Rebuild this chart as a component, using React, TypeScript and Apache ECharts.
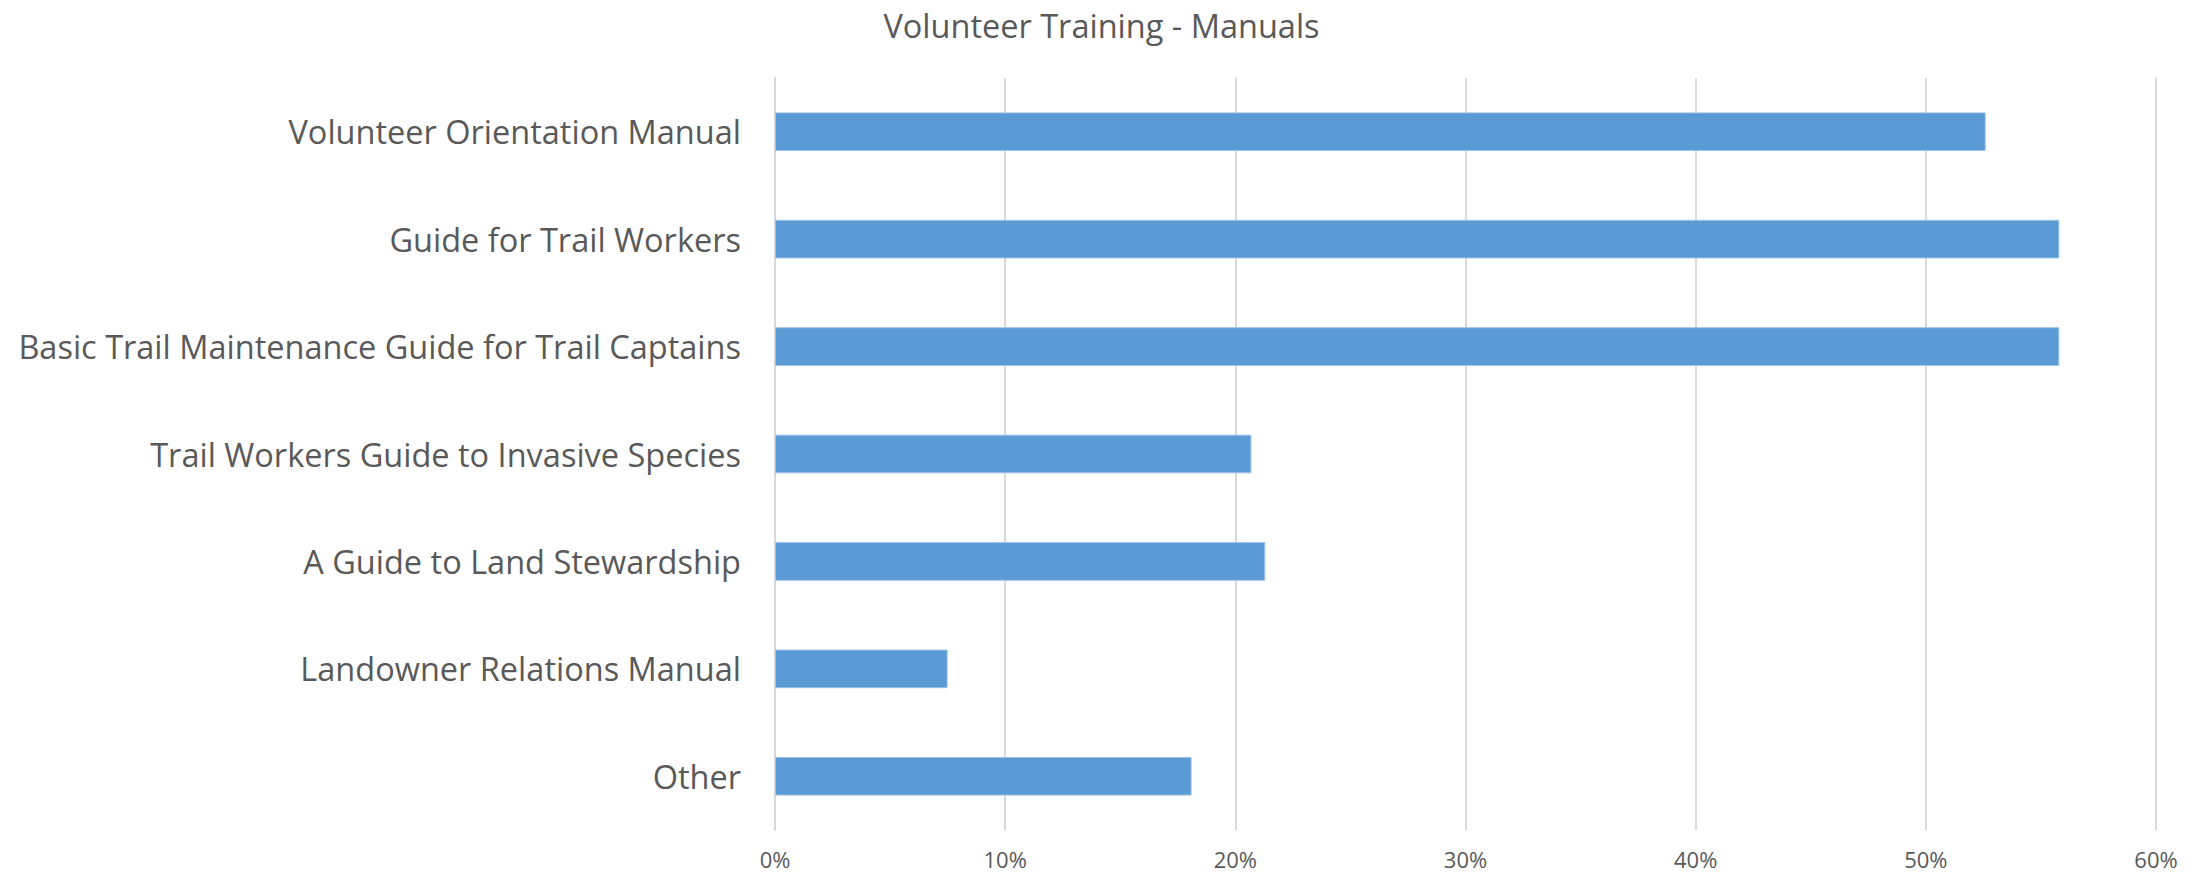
import React, { useEffect, useRef } from "react";
import * as echarts from "echarts";

const titleText = "Volunteer Training - Manuals";
const categories = [
  "Volunteer Orientation Manual",
  "Guide for Trail Workers",
  "Basic Trail Maintenance Guide for Trail Captains",
  "Trail Workers Guide to Invasive Species",
  "A Guide to Land Stewardship",
  "Landowner Relations Manual",
  "Other",
];
const values = [52.6, 55.8, 55.8, 20.7, 21.3, 7.5, 18.1];
const xMin = 0;
const xMax = 60;
const xStep = 10;

export default function App() {
  const ref = useRef<HTMLDivElement>(null);
  useEffect(() => {
    document.body.style.margin = "0";
    const chart = echarts.init(ref.current!, null, { renderer: "svg" });
    const font = "'Open Sans', 'Noto Sans', sans-serif";
    chart.setOption({
      animation: false,
      backgroundColor: "#ffffff",
      title: {
        text: titleText,
        left: "center",
        top: 4,
        textStyle: { color: "#595959", fontSize: 32.5, fontWeight: "normal", fontFamily: font },
      },
      grid: { left: 775, right: 47, top: 78, bottom: 43, containLabel: false },
      xAxis: {
        type: "value",
        min: xMin,
        max: xMax,
        interval: xStep,
        axisLine: { show: false },
        axisTick: { show: false },
        splitLine: { show: true, lineStyle: { color: "#D9D9D9", width: 2 } },
        axisLabel: {
          formatter: (v: number) => `${v}%`,
          color: "#595959",
          fontSize: 22,
          fontFamily: font,
          margin: 18,
        },
      },
      yAxis: {
        type: "category",
        data: categories,
        inverse: true,
        axisLine: { show: true, lineStyle: { color: "#D9D9D9", width: 2 } },
        axisTick: { show: false },
        axisLabel: {
          color: "#595959",
          fontSize: 32.5,
          fontFamily: font,
          margin: 34,
        },
      },
      series: [
        {
          type: "bar",
          data: values,
          barCategoryGap: "64%",
          itemStyle: { color: "#5B9BD5", borderColor: "#9DC3E6", borderWidth: 1 },
        },
      ],
    });
    return () => chart.dispose();
  }, []);
  return <div ref={ref} style={{ width: 2203, height: 873 }} />;
}
